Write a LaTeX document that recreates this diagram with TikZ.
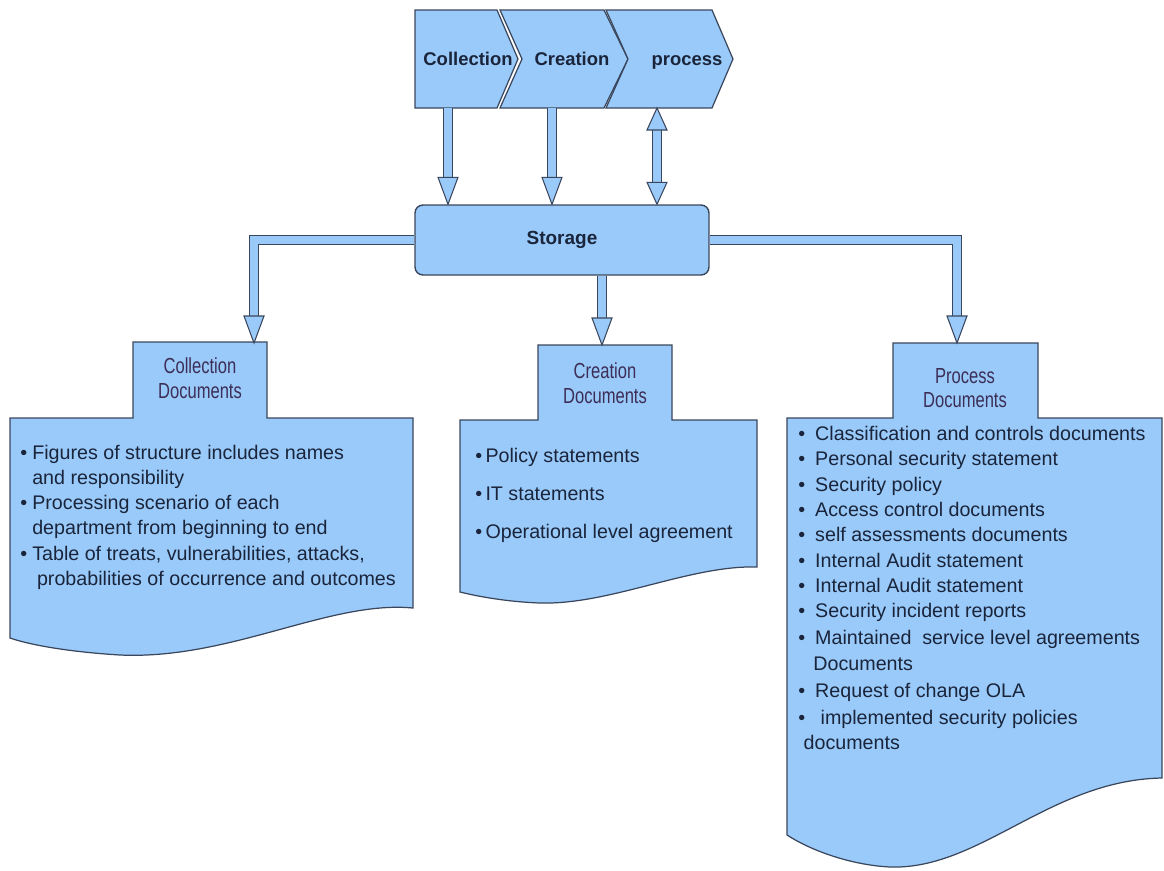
\documentclass[tikz,border=0pt]{standalone}
\usepackage{fontspec}
\setmainfont{Liberation Sans}
\usetikzlibrary{positioning}

\definecolor{boxblue}{RGB}{153,202,250}
\definecolor{edgegray}{RGB}{58,70,92}
\definecolor{inktxt}{RGB}{26,36,58}
\definecolor{tabink}{RGB}{60,46,86}

\newcommand{\bul}[1][6.8pt]{\makebox[#1][l]{\textbullet}}
\newcommand{\narrow}[1]{\scalebox{0.76}[1]{#1}}

\tikzset{
  docshape/.style={fill=boxblue, draw=edgegray, line width=0.7pt, line join=miter},
  chevtxt/.style={font=\bfseries\fontsize{10.5}{12}\selectfont, text=inktxt,
    text height=7.8pt, text depth=2.2pt},
  storebox/.style={fill=boxblue, draw=edgegray, line width=0.8pt, rounded corners=4.5pt,
    minimum width=5.88cm, minimum height=1.4cm, font=\bfseries\fontsize{10.8}{12}\selectfont, text=inktxt},
  shaft/.style={draw=edgegray, line width=0.6pt, double=boxblue, double distance=4.8pt},
  tiphead/.style={fill=boxblue, draw=edgegray, line width=0.6pt, line join=miter},
  tablabel/.style={font=\fontsize{12.4}{14}\selectfont, text=tabink, align=center},
  itemtxt/.style={font=\fontsize{11.2}{14.3}\selectfont, text=inktxt, align=left,
    anchor=north west, inner sep=0pt},
  downtip/.pic={\filldraw[tiphead] (0,0) -- (-10,-27) -- (10,-27) -- cycle;},
  uptip/.pic={\filldraw[tiphead] (0,0) -- (-10,22) -- (10,22) -- cycle;},
  shortdown/.pic={\filldraw[tiphead] (0,0) -- (-10,-22) -- (10,-22) -- cycle;}
}

\begin{document}
\begin{tikzpicture}[x=0.02cm, y=-0.02cm]
  \useasboundingbox (0,0) rectangle (1164,870);

  % chevrons on top
  \draw[docshape] (415,10) -- (497,10) -- (518,59) -- (497,108) -- (415,108) -- cycle;
  \draw[docshape] (500,10) -- (604,10) -- (628,59) -- (604,108) -- (500,108) -- (522,59) -- cycle;
  \draw[docshape] (606,10) -- (712,10) -- (733,59) -- (712,108) -- (606,108) -- (628,59) -- cycle;
  \node[chevtxt] (coll) at (468,61) {Collection};
  \node[chevtxt] (creat) at (572,61) {Creation};
  \node[chevtxt] (proc) at (687,61) {process};

  \node[storebox] (stor) at (562,240) {Storage};

  % document shapes
  \draw[docshape] (133,342) -- (267,342) -- (267,418) -- (413,418) -- (413,608)
    .. controls (330,600) and (230,660) .. (120,655)
    .. controls (70,652) and (30,645) .. (10,638) -- (10,418) -- (133,418) -- cycle;
  \draw[docshape] (538,345) -- (672,345) -- (672,420) -- (757,420) -- (757,567)
    .. controls (690,565) and (610,605) .. (540,603)
    .. controls (510,602) and (480,597) .. (460,592) -- (460,420) -- (538,420) -- cycle;
  \draw[docshape] (893,343) -- (1038,343) -- (1038,418) -- (1162,418) -- (1162,778)
    .. controls (1050,780) and (980,870) .. (890,867)
    .. controls (850,865) and (810,850) .. (787,835) -- (787,418) -- (893,418) -- cycle;

  \node[tablabel] (ctab) at (200,378) {\narrow{Collection}\\\narrow{Documents}};
  \node[tablabel] (crtab) at (605,383) {\narrow{Creation}\\\narrow{Documents}};
  \node[tablabel] (prtab) at (965,388) {\narrow{Process}\\\narrow{Documents}};

  % arrows from the chevrons
  \coordinate (collout) at (448,108);
  \coordinate (creatout) at (552,108);
  \coordinate (procout) at (657,108);
  \draw[shaft, shorten >=14pt] (collout) -- (collout |- stor.north);
  \pic at (collout |- stor.north) {downtip};
  \draw[shaft, shorten >=14pt] (creatout) -- (creatout |- stor.north);
  \pic at (creatout |- stor.north) {downtip};
  \draw[shaft, shorten <=11pt, shorten >=11pt] (procout) -- (procout |- stor.north);
  \pic at (procout) {uptip};
  \pic at (procout |- stor.north) {shortdown};

  % arrows to the documents
  \coordinate (collin) at (254,343);
  \coordinate (creatin) at (602,345);
  \coordinate (procin) at (957,343);
  \draw[shaft, shorten >=15pt] (stor.west) -| (collin);
  \pic at (collin) {downtip};
  \draw[shaft, shorten >=15pt] (stor.south -| creatin) -- (creatin);
  \pic at (creatin) {downtip};
  \draw[shaft, shorten >=15pt] (stor.east) -| (procin);
  \pic at (procin) {downtip};

  % lists
  \node[itemtxt] (clist) at (20,445) {\bul Figures of structure includes names\\
    \hspace{6.8pt}and responsibility\\
    \bul Processing scenario of each\\
    \hspace{6.8pt}department from beginning to end\\
    \bul Table of treats, vulnerabilities, attacks,\\
    \hspace{9.5pt}probabilities of occurrence and outcomes};
  \node[itemtxt, font=\fontsize{11.2}{21.5}\selectfont] (crlist) at (475,448)
    {\bul[5.8pt]Policy statements\\ \bul[5.8pt]IT statements\\ \bul[5.8pt]Operational level agreement};
  \node[itemtxt, font=\fontsize{11.2}{14.4}\selectfont] (plist) at (798,426)
    {\bul[9.6pt]Classification and controls documents\\
     \bul[9.6pt]Personal security statement\\
     \bul[9.6pt]Security policy\\
     \bul[9.6pt]Access control documents\\
     \bul[9.6pt]self assessments documents\\
     \bul[9.6pt]Internal Audit statement\\
     \bul[9.6pt]Internal Audit statement\\
     \bul[9.6pt]Security incident reports\\[1pt]
     \bul[9.6pt]Maintained\ \ service level agreements\\
     \hspace{8.6pt}Documents\\[1pt]
     \bul[9.6pt]Request of change OLA\\[1pt]
     \bul[9.6pt]\ implemented security policies\\
     \hspace{3pt}documents};
\end{tikzpicture}
\end{document}
